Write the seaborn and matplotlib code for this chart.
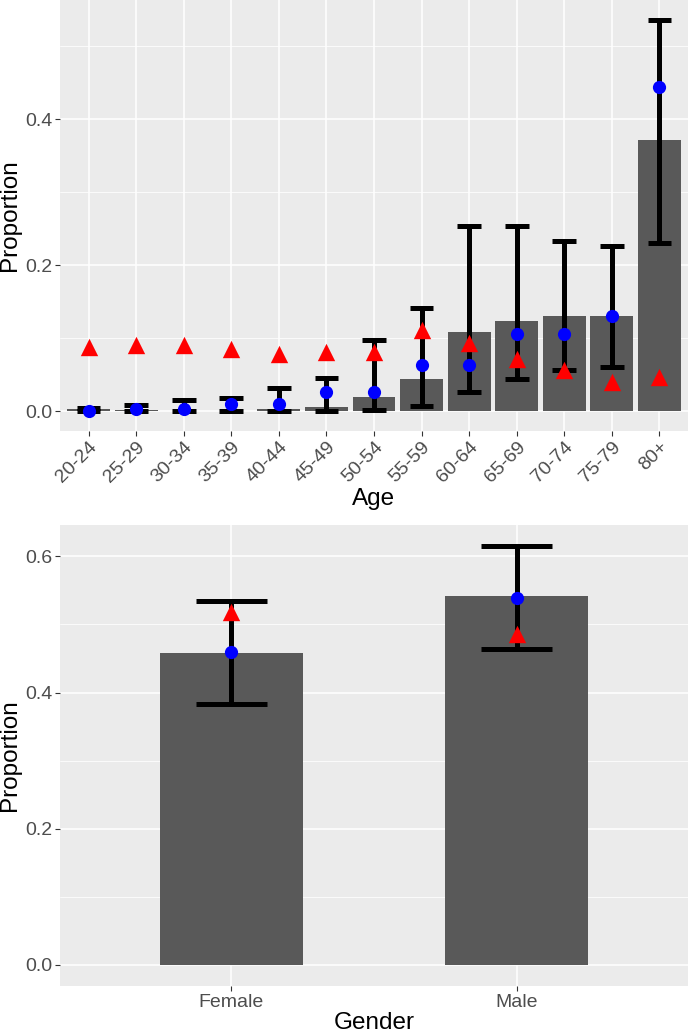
import numpy as np
import matplotlib
matplotlib.use("Agg")
import matplotlib.pyplot as plt
import seaborn as sns

# age panel
ages = ['20-24', '25-29', '30-34', '35-39', '40-44', '45-49', '50-54',
        '55-59', '60-64', '65-69', '70-74', '75-79', '80+']
age_bar = [0.003, 0.002, 0.001, 0.001, 0.003, 0.006, 0.020,
           0.044, 0.109, 0.124, 0.130, 0.131, 0.371]
age_lo = [0.0, 0.0, 0.0, 0.0, 0.0, 0.0, 0.002,
          0.007, 0.026, 0.044, 0.056, 0.061, 0.231]
age_hi = [0.005, 0.008, 0.016, 0.018, 0.032, 0.046, 0.097,
          0.141, 0.253, 0.253, 0.233, 0.226, 0.536]
age_blue = [0.001, 0.003, 0.003, 0.010, 0.010, 0.026, 0.026,
            0.063, 0.063, 0.106, 0.106, 0.131, 0.444]
age_red = [0.088, 0.091, 0.091, 0.085, 0.079, 0.081, 0.081,
           0.111, 0.093, 0.071, 0.056, 0.040, 0.047]

# gender panel
genders = ['Female', 'Male']
gen_bar = [0.458, 0.541]
gen_lo = [0.383, 0.464]
gen_hi = [0.534, 0.615]
gen_blue = [0.459, 0.539]
gen_red = [0.518, 0.486]

sns.set_theme(style="darkgrid", rc={
    "axes.facecolor": "#EBEBEB",
    "grid.color": "white",
    "axes.edgecolor": "#EBEBEB",
    "xtick.color": "#333333",
    "ytick.color": "#333333",
})
plt.rcParams['font.family'] = ['Liberation Sans', 'DejaVu Sans']

W, H = 688, 1033
fig = plt.figure(figsize=(W / 100, H / 100), dpi=100)
ax1 = fig.add_axes([60 / W, (H - 431) / H, 628 / W, 431 / H])
ax2 = fig.add_axes([60 / W, (H - 986) / H, 628 / W, (986 - 525) / H])


def panel(ax, cats, bar, lo, hi, blue, red, xlabel, ylim, yticks, minor, rot):
    many = len(cats) > 2
    sns.barplot(x=cats, y=bar, color='#595959', saturation=1, width=0.9 if many else 0.5,
                linewidth=0, ax=ax, zorder=2)
    pos = np.arange(len(cats))
    cap = 0.25 if many else 0.125
    ax.vlines(pos, lo, hi, color='black', lw=3.6, zorder=3)
    ax.hlines(lo, pos - cap, pos + cap, color='black', lw=3.6, zorder=3)
    ax.hlines(hi, pos - cap, pos + cap, color='black', lw=3.6, zorder=3)
    sns.stripplot(x=cats, y=blue, jitter=False, color='blue', size=9.5, marker='o',
                  linewidth=0, ax=ax, zorder=4)
    sns.stripplot(x=cats, y=red, jitter=False, color='red', size=12.5, marker='^',
                  linewidth=0, ax=ax, zorder=5)
    ax.set_xlim(-0.6, len(cats) - 0.4)
    ax.set_ylim(*ylim)
    ax.set_yticks(yticks)
    ax.set_yticklabels([f"{v:.1f}" for v in yticks])
    ax.set_yticks(minor, minor=True)
    ax.grid(True, which='major', color='white', lw=1.1)
    ax.grid(True, which='minor', axis='y', color='white', lw=0.55)
    ax.set_axisbelow(True)
    for s in ax.spines.values():
        s.set_visible(False)
    ax.tick_params(axis='both', which='major', length=3.5, width=0.8, color='#333333',
                   labelsize=14, labelcolor='#4D4D4D', pad=2, bottom=True, left=True)
    ax.tick_params(axis='y', which='minor', length=0)
    if rot:
        ax.set_xticks(pos)
        ax.set_xticklabels(cats, rotation=45, ha='right', rotation_mode='anchor')
    ax.set_xlabel(xlabel, fontsize=17.5, color='black', labelpad=1)
    ax.set_ylabel('Proportion', fontsize=17.5, color='black', labelpad=3)


panel(ax1, ages, age_bar, age_lo, age_hi, age_blue, age_red, 'Age',
      (-0.027, 0.563), [0.0, 0.2, 0.4], [0.1, 0.3, 0.5], True)
panel(ax2, genders, gen_bar, gen_lo, gen_hi, gen_blue, gen_red, 'Gender',
      (-0.031, 0.646), [0.0, 0.2, 0.4, 0.6], [0.1, 0.3, 0.5], False)

fig.savefig('out.png', dpi=100)
